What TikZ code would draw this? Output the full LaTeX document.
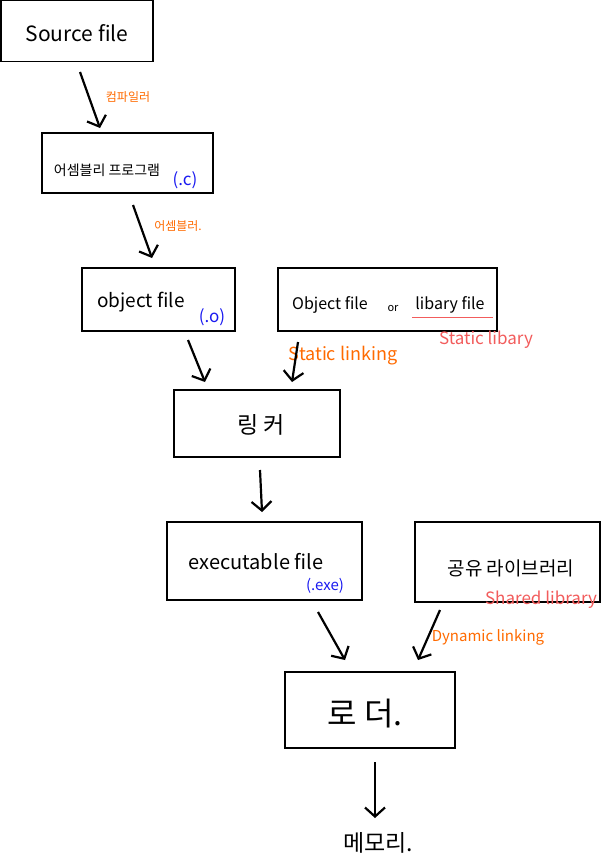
\documentclass[tikz,border=0pt]{standalone}
\usepackage{fontspec}
\setmainfont{Noto Sans CJK KR}
\usetikzlibrary{arrows.meta}
\definecolor{noteorange}{HTML}{FF6A00}
\definecolor{notered}{HTML}{F25C5C}
\definecolor{extblue}{HTML}{1A1AF0}
\newcommand{\fsz}[1]{\fontsize{#1}{#1}\selectfont}

\begin{document}
\begin{tikzpicture}[x=1pt,y=-1pt,
    box/.style={draw,line width=1.2pt,inner sep=0pt},
    lbl/.style={inner sep=0pt},
    ext/.style={inner sep=0pt,text=extblue},
    note/.style={inner sep=0pt,text=noteorange},
    libnote/.style={inner sep=0pt,text=notered},
    flow/.style={-{Straight Barb[length=9pt,width=20pt]},line width=2.2pt}]
    \useasboundingbox (0,0) rectangle (602,859);
    % boxes
    \node[box,minimum width=152,minimum height=61] (src) at (77,31) {};
    \node[box,minimum width=171,minimum height=60] (asm) at (127.5,163) {};
    \node[box,minimum width=153,minimum height=63] (obj) at (158.5,299.5) {};
    \node[box,minimum width=219,minimum height=63] (lib) at (387.5,299.5) {};
    \node[box,minimum width=166,minimum height=67] (lnk) at (257,423.5) {};
    \node[box,minimum width=195,minimum height=78] (exe) at (264.5,561) {};
    \node[box,minimum width=185,minimum height=80] (shr) at (507.5,562) {};
    \node[box,minimum width=170,minimum height=76] (ldr) at (370,710) {};
    % texts
    \node[lbl,font=\fsz{21}] (srctxt) at (77,33) {Source file};
    \node[lbl,font=\fsz{14}] (asmtxt) at (107,170) {어셈블리 프로그램};
    \node[ext,font=\fsz{17}] (asmext) at (185,180) {(.c)};
    \node[lbl,font=\fsz{19}] (objtxt) at (141,302) {object file};
    \node[ext,font=\fsz{17}] (objext) at (212,317) {(.o)};
    \node[lbl,font=\fsz{16}] (objf) at (330,305) {Object file};
    \node[lbl,font=\fsz{11}] (ortxt) at (393,309) {or};
    \node[lbl,font=\fsz{16}] (libf) at (450,305) {libary file};
    \node[lbl,font=\fsz{23}] (lnktxt) at (261,425) {링 커};
    \node[lbl,font=\fsz{20}] (exetxt) at (256,562) {executable file};
    \node[ext,font=\fsz{15}] (exeext) at (325,586) {(.exe)};
    \node[lbl,font=\fsz{19}] (shrtxt) at (511,568) {공유 라이브러리};
    \node[lbl,font=\fsz{32}] (ldrtxt) at (365,714) {로 더.};
    \node[lbl,font=\fsz{23}] (mem) at (378,843) {메모리.};
    % notes
    \node[note,font=\fsz{12}] (cc) at (128,97) {컴파일러};
    \node[note,font=\fsz{12}] (as) at (178,226) {어셈블러.};
    \node[note,font=\fsz{18}] (stlink) at (343,356) {Static linking};
    \node[libnote,font=\fsz{17}] (stlib) at (486,340) {Static libary};
    \node[libnote,font=\fsz{17}] (shlib) at (541,600) {Shared library};
    \node[note,font=\fsz{15}] (dylink) at (488,637) {Dynamic linking};
    \draw[notered,line width=1.8pt] ([xshift=-3pt,yshift=-4pt]libf.south west) -- ([xshift=8pt,yshift=-4pt]libf.south east);
    % arrows
    \coordinate (s1) at (80,72);   \coordinate (e1) at (100,128);
    \coordinate (s2) at (133,205); \coordinate (e2) at (152,258);
    \coordinate (s3) at (188,340); \coordinate (e3) at (205,382);
    \coordinate (s4) at (298,342); \coordinate (e4) at (292,382);
    \coordinate (s5) at (260,470); \coordinate (e5) at (262,512);
    \coordinate (s6) at (318,612); \coordinate (e6) at (345,660);
    \coordinate (s7) at (440,610); \coordinate (e7) at (418,660);
    \coordinate (s8) at (375,762); \coordinate (e8) at (375,818);
    \foreach \i in {1,...,8}
        \draw[flow] (s\i) -- (e\i);
\end{tikzpicture}
\end{document}
